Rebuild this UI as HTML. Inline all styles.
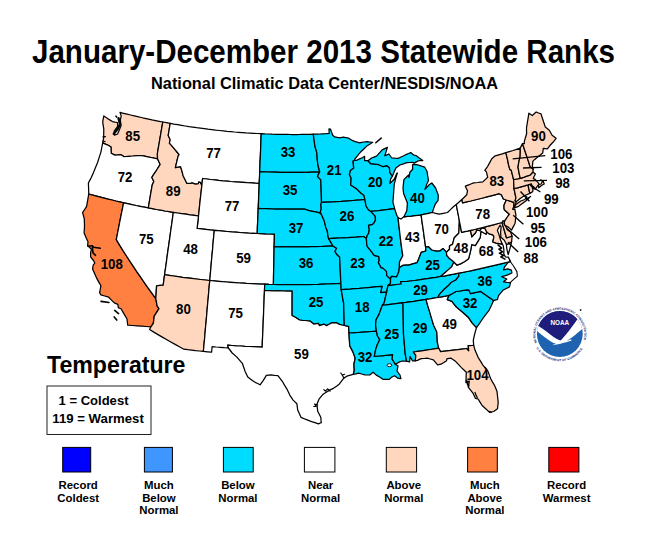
<!DOCTYPE html>
<html><head><meta charset="utf-8"><title>January-December 2013 Statewide Ranks</title>
<style>
html,body{margin:0;padding:0;background:#fff}
body{width:650px;height:534px;overflow:hidden;position:relative;font-family:"Liberation Sans",sans-serif;color:#000}
svg{position:absolute;left:0;top:0}
text{font-family:"Liberation Sans",sans-serif}
.st path{stroke:#000;stroke-width:1.25;stroke-linejoin:round}
.lb text{font-weight:bold;font-size:14.5px;text-anchor:middle;fill:#000}
.ld line{stroke:#000;stroke-width:1.35}
.lg{font-weight:bold;font-size:11.4px;text-anchor:middle}
.t1{font-weight:bold;font-size:32.4px}
.t2{font-weight:bold;font-size:16.3px}
.t3{font-weight:bold;font-size:23.2px}
.t4{font-weight:bold;font-size:13.1px}
</style></head><body>
<svg width="650" height="534" viewBox="0 0 650 534">
<text id="title" class="t1" x="32" y="62.7" textLength="583" lengthAdjust="spacingAndGlyphs">January-December 2013 Statewide Ranks</text>
<text id="sub" class="t2" x="151" y="88.6" textLength="347" lengthAdjust="spacingAndGlyphs">National Climatic Data Center/NESDIS/NOAA</text>
<g class="st"><path d="M120.0,112.4L123.5,113.3L127.1,114.2L130.6,115.0L134.2,115.9L137.7,116.7L141.3,117.5L144.9,118.3L148.5,119.1L152.0,119.9L155.6,120.6L159.2,121.3L162.8,122.0L161.9,127.2L161.0,132.5L160.1,137.7L159.2,143.0L158.3,148.2L157.4,153.5L157.5,158.8L154.2,158.2L151.0,157.5L147.8,156.9L144.5,156.2L141.3,155.5L139.2,155.6L137.0,155.6L132.9,156.0L128.7,156.3L126.2,156.5L123.7,156.6L120.8,154.6L117.9,154.9L114.9,155.1L111.2,153.3L111.0,147.0L108.1,145.3L105.4,144.1L102.7,142.9L103.6,138.0L103.7,134.2L103.8,129.1L103.2,125.4L102.7,121.8L103.8,115.9L105.8,117.3L107.9,118.7L110.1,120.1L112.4,121.6L114.9,122.1L117.5,122.5L117.7,126.4L114.2,131.2L114.5,135.2L117.6,134.0L119.3,130.0L121.1,125.4L120.3,120.1L121.2,115.9L120.0,112.4Z" fill="#FFD6BE"/><path d="M102.7,142.9L105.4,144.1L108.1,145.3L111.0,147.0L111.2,153.3L114.9,155.1L117.9,154.9L120.8,154.6L123.7,156.6L126.2,156.5L128.7,156.3L132.9,156.0L137.0,155.6L139.2,155.6L141.3,155.5L144.5,156.2L147.8,156.9L151.0,157.5L154.2,158.2L157.5,158.8L160.2,164.4L158.0,167.8L156.0,171.2L153.9,174.0L151.9,177.4L153.8,181.6L152.2,185.1L151.2,190.8L150.2,196.5L149.3,202.2L148.3,207.9L144.2,207.1L140.1,206.3L135.9,205.5L131.8,204.6L127.7,203.7L123.6,202.8L119.7,201.9L115.8,201.0L112.0,200.0L108.1,199.1L104.2,198.1L100.4,197.1L96.5,196.1L92.7,195.1L88.8,194.0L88.6,188.5L88.4,183.0L89.9,180.1L91.4,177.2L93.5,172.4L95.5,167.6L97.5,162.8L99.2,157.4L100.9,152.1L101.8,147.5L102.7,142.9Z" fill="#FFFFFF"/><path d="M88.8,194.0L92.7,195.1L96.5,196.1L100.4,197.1L104.2,198.1L108.1,199.1L112.0,200.0L115.8,201.0L119.7,201.9L123.6,202.8L122.4,208.9L121.1,215.1L119.9,221.2L118.7,227.4L117.5,233.5L116.3,239.7L119.6,245.1L123.0,250.6L126.5,256.0L130.0,261.4L133.5,266.7L137.1,272.1L140.8,277.4L144.5,282.8L148.2,288.1L152.0,293.4L155.8,298.7L156.5,302.3L157.1,305.9L159.0,308.6L156.6,312.4L154.2,316.2L153.8,319.8L153.3,323.3L150.9,326.8L146.2,326.5L141.6,326.2L137.0,325.9L132.3,325.5L127.7,325.1L127.0,319.0L124.0,313.9L121.0,308.8L118.3,307.6L117.9,304.3L114.3,302.9L111.5,300.1L108.7,297.2L104.7,296.0L100.8,294.8L99.6,292.6L100.3,289.2L100.9,285.8L98.8,282.1L96.8,278.4L94.7,273.7L92.6,268.9L93.2,265.2L94.8,263.0L93.5,260.5L90.6,256.8L90.6,252.9L91.4,249.2L87.6,245.6L88.0,241.8L86.0,237.4L84.1,233.0L84.5,226.6L84.4,222.7L84.3,218.8L82.6,212.6L84.6,209.5L86.6,206.4L87.4,201.8L88.2,197.1L88.8,194.0Z" fill="#FF8040"/><path d="M123.6,202.8L127.7,203.7L131.8,204.6L135.9,205.5L140.1,206.3L144.2,207.1L148.3,207.9L152.5,208.7L156.6,209.5L160.8,210.2L165.0,211.0L169.2,211.7L173.3,212.3L172.5,218.5L171.6,224.8L170.7,231.0L169.9,237.2L169.0,243.4L168.1,249.7L167.2,255.9L166.4,262.1L165.5,268.4L164.6,274.6L163.9,279.9L163.2,285.2L159.9,285.3L156.6,285.8L156.4,289.1L156.2,292.4L155.8,298.7L152.0,293.4L148.2,288.1L144.5,282.8L140.8,277.4L137.1,272.1L133.5,266.7L130.0,261.4L126.5,256.0L123.0,250.6L119.6,245.1L116.3,239.7L117.5,233.5L118.7,227.4L119.9,221.2L121.1,215.1L122.4,208.9L123.6,202.8Z" fill="#FFFFFF"/><path d="M162.8,122.0L166.5,122.7L170.2,123.4L169.2,129.5L168.2,135.6L170.2,139.7L169.4,143.1L172.1,146.2L174.8,149.3L177.0,152.0L179.1,154.7L178.1,156.1L177.2,159.8L176.4,163.4L175.4,167.7L177.9,167.2L180.5,166.7L181.6,169.9L183.2,175.9L184.5,178.6L186.8,183.3L190.9,183.3L191.8,182.7L195.0,183.8L198.3,183.6L198.8,181.7L200.3,182.4L201.9,185.1L201.2,191.3L200.5,197.4L199.8,203.6L199.2,209.7L198.5,215.9L194.3,215.3L190.1,214.8L185.9,214.2L181.7,213.6L177.5,213.0L173.3,212.3L169.2,211.7L165.0,211.0L160.8,210.2L156.6,209.5L152.5,208.7L148.3,207.9L149.3,202.2L150.2,196.5L151.2,190.8L152.2,185.1L153.8,181.6L151.9,177.4L153.9,174.0L156.0,171.2L158.0,167.8L160.2,164.4L157.5,158.8L157.4,153.5L158.3,148.2L159.2,143.0L160.1,137.7L161.0,132.5L161.9,127.2L162.8,122.0Z" fill="#FFD6BE"/><path d="M170.2,123.4L173.9,124.1L177.7,124.7L181.5,125.4L185.2,126.0L189.0,126.6L192.8,127.1L196.6,127.7L200.4,128.2L204.2,128.7L208.0,129.2L211.8,129.6L215.6,130.1L219.4,130.5L223.2,130.9L227.0,131.3L230.8,131.6L234.6,132.0L238.4,132.3L242.2,132.6L246.0,132.9L249.8,133.1L253.6,133.3L257.4,133.5L261.2,133.7L261.0,139.1L260.8,144.5L260.6,149.9L260.4,155.3L260.1,160.8L259.9,166.2L259.7,171.6L259.5,177.5L259.2,183.4L255.2,183.2L251.1,182.9L247.1,182.7L243.0,182.4L239.0,182.1L234.9,181.8L230.9,181.5L226.8,181.1L222.8,180.8L218.7,180.4L214.7,179.9L210.6,179.5L206.6,179.0L202.6,178.5L202.2,181.8L201.9,185.1L200.3,182.4L198.8,181.7L198.3,183.6L195.0,183.8L191.8,182.7L190.9,183.3L186.8,183.3L184.5,178.6L183.2,175.9L181.6,169.9L180.5,166.7L177.9,167.2L175.4,167.7L176.4,163.4L177.2,159.8L178.1,156.1L179.1,154.7L177.0,152.0L174.8,149.3L172.1,146.2L169.4,143.1L170.2,139.7L168.2,135.6L169.2,129.5L170.2,123.4Z" fill="#FFFFFF"/><path d="M201.9,185.1L202.2,181.8L202.6,178.5L206.6,179.0L210.6,179.5L214.7,179.9L218.7,180.4L222.8,180.8L226.8,181.1L230.9,181.5L234.9,181.8L239.0,182.1L243.0,182.4L247.1,182.7L251.1,182.9L255.2,183.2L259.2,183.4L259.0,189.6L258.7,195.9L258.5,202.1L258.2,208.4L258.0,214.7L257.7,220.9L257.4,227.2L257.2,233.5L252.9,233.3L248.6,233.1L244.3,232.8L240.0,232.5L235.7,232.2L231.4,231.9L227.1,231.5L222.8,231.1L218.5,230.7L214.3,230.3L210.0,229.9L205.7,229.4L201.4,228.9L197.1,228.4L197.8,222.1L198.5,215.9L199.2,209.7L199.8,203.6L200.5,197.4L201.2,191.3L201.9,185.1Z" fill="#FFFFFF"/><path d="M173.3,212.3L177.5,213.0L181.7,213.6L185.9,214.2L190.1,214.8L194.3,215.3L198.5,215.9L197.8,222.1L197.1,228.4L201.4,228.9L205.7,229.4L210.0,229.9L214.3,230.3L213.7,236.6L213.1,242.8L212.6,249.1L212.0,255.4L211.4,261.7L210.9,267.9L210.3,274.2L209.8,280.5L205.2,280.0L200.7,279.5L196.2,279.0L191.7,278.4L187.2,277.9L182.6,277.3L178.1,276.6L173.6,276.0L169.1,275.3L164.6,274.6L165.5,268.4L166.4,262.1L167.2,255.9L168.1,249.7L169.0,243.4L169.9,237.2L170.7,231.0L171.6,224.8L172.5,218.5L173.3,212.3Z" fill="#FFFFFF"/><path d="M214.3,230.3L218.5,230.7L222.8,231.1L227.1,231.5L231.4,231.9L235.7,232.2L240.0,232.5L244.3,232.8L248.6,233.1L252.9,233.3L257.2,233.5L261.5,233.7L265.8,233.9L270.1,234.0L274.4,234.1L274.3,240.4L274.1,246.7L274.0,253.0L273.9,259.3L273.8,265.6L273.6,271.9L273.5,278.2L273.4,284.5L269.0,284.4L264.7,284.2L260.4,284.1L256.2,283.9L252.0,283.7L247.8,283.5L243.5,283.2L239.3,283.0L235.1,282.7L230.9,282.4L226.6,282.0L222.4,281.7L218.2,281.3L214.0,280.9L209.8,280.5L210.3,274.2L210.9,267.9L211.4,261.7L212.0,255.4L212.6,249.1L213.1,242.8L213.7,236.6L214.3,230.3Z" fill="#FFFFFF"/><path d="M164.6,274.6L169.1,275.3L173.6,276.0L178.1,276.6L182.6,277.3L187.2,277.9L191.7,278.4L196.2,279.0L200.7,279.5L205.2,280.0L209.8,280.5L209.2,286.4L208.7,292.3L208.2,298.3L207.6,304.2L207.1,310.1L206.6,316.0L206.1,321.9L205.5,327.8L205.0,333.7L204.5,339.6L203.9,345.5L203.4,351.4L199.5,351.0L195.5,350.6L191.6,350.1L187.7,349.7L183.8,349.2L179.4,346.8L175.1,344.4L170.8,342.0L166.5,339.5L162.3,337.1L158.0,334.6L153.8,332.1L149.6,329.5L150.9,326.8L153.3,323.3L153.8,319.8L154.2,316.2L156.6,312.4L159.0,308.6L157.1,305.9L156.5,302.3L155.8,298.7L156.2,292.4L156.4,289.1L156.6,285.8L159.9,285.3L163.2,285.2L163.9,279.9L164.6,274.6Z" fill="#FFD6BE"/><path d="M209.8,280.5L214.0,280.9L218.2,281.3L222.4,281.7L226.6,282.0L230.9,282.4L235.1,282.7L239.3,283.0L243.5,283.2L247.8,283.5L252.0,283.7L256.2,283.9L260.4,284.1L264.7,284.2L264.5,290.5L264.2,296.8L264.0,303.1L263.7,309.4L263.5,315.7L263.2,322.0L263.0,328.3L262.7,334.5L262.4,340.8L262.2,347.1L257.9,346.9L253.5,346.7L249.2,346.5L244.9,346.3L240.6,346.0L236.3,345.8L232.0,345.5L227.7,345.2L228.4,348.0L224.3,347.7L220.2,347.3L216.1,347.0L212.1,346.6L211.6,352.2L207.5,351.8L203.4,351.4L203.9,345.5L204.5,339.6L205.0,333.7L205.5,327.8L206.1,321.9L206.6,316.0L207.1,310.1L207.6,304.2L208.2,298.3L208.7,292.3L209.2,286.4L209.8,280.5Z" fill="#FFFFFF"/><path d="M261.2,133.7L265.0,133.9L268.7,134.0L272.4,134.2L276.1,134.3L279.8,134.3L283.6,134.4L287.3,134.4L291.0,134.5L294.7,134.5L298.4,134.5L302.2,134.4L305.9,134.4L309.6,134.3L313.3,134.2L314.1,140.3L315.0,146.5L316.8,152.6L317.2,158.8L317.9,165.0L318.8,168.5L319.7,171.9L315.7,172.1L311.7,172.2L307.7,172.3L303.7,172.3L299.7,172.4L295.7,172.4L291.7,172.4L287.7,172.4L283.7,172.4L279.7,172.3L275.7,172.2L271.7,172.1L267.7,172.0L263.7,171.8L259.7,171.6L259.9,166.2L260.1,160.8L260.4,155.3L260.6,149.9L260.8,144.5L261.0,139.1L261.2,133.7Z" fill="#00DCFF"/><path d="M259.7,171.6L263.7,171.8L267.7,172.0L271.7,172.1L275.7,172.2L279.7,172.3L283.7,172.4L287.7,172.4L291.7,172.4L295.7,172.4L299.7,172.4L303.7,172.3L307.7,172.3L311.7,172.2L315.7,172.1L319.7,171.9L317.5,176.3L320.8,179.9L321.0,185.5L321.2,191.1L321.4,196.8L321.5,202.4L320.8,204.9L321.3,208.7L320.3,211.9L321.7,215.0L319.4,212.8L315.6,211.8L312.6,211.3L309.7,210.9L307.1,210.0L304.6,209.1L300.7,209.2L296.9,209.2L293.0,209.2L289.1,209.2L285.3,209.2L281.4,209.1L277.5,209.0L273.7,209.0L269.8,208.8L265.9,208.7L262.1,208.6L258.2,208.4L258.5,202.1L258.7,195.9L259.0,189.6L259.2,183.4L259.5,177.5L259.7,171.6Z" fill="#00DCFF"/><path d="M258.2,208.4L262.1,208.6L265.9,208.7L269.8,208.8L273.7,209.0L277.5,209.0L281.4,209.1L285.3,209.2L289.1,209.2L293.0,209.2L296.9,209.2L300.7,209.2L304.6,209.1L307.1,210.0L309.7,210.9L312.6,211.3L315.6,211.8L319.4,212.8L321.7,215.0L324.3,221.1L325.8,227.4L327.2,230.5L328.0,236.1L328.6,238.6L331.2,242.9L332.9,245.9L328.7,246.1L324.5,246.3L320.3,246.5L316.1,246.6L311.9,246.7L307.7,246.8L303.5,246.9L299.3,246.9L295.1,246.9L290.9,246.9L286.7,246.9L282.5,246.9L278.3,246.8L274.1,246.7L274.3,240.4L274.4,234.1L270.1,234.0L265.8,233.9L261.5,233.7L257.2,233.5L257.4,227.2L257.7,220.9L258.0,214.7L258.2,208.4Z" fill="#00DCFF"/><path d="M274.1,246.7L278.3,246.8L282.5,246.9L286.7,246.9L290.9,246.9L295.1,246.9L299.3,246.9L303.5,246.9L307.7,246.8L311.9,246.7L316.1,246.6L320.3,246.5L324.5,246.3L328.7,246.1L332.9,245.9L336.6,248.3L335.0,251.5L336.9,254.6L339.6,256.9L339.9,262.2L340.1,267.5L340.4,272.8L340.6,278.1L340.9,283.4L336.4,283.6L331.9,283.8L327.4,284.0L322.9,284.2L318.4,284.4L313.9,284.5L309.4,284.6L304.9,284.7L300.4,284.7L295.9,284.7L291.4,284.7L286.9,284.7L282.4,284.7L277.9,284.6L273.4,284.5L273.5,278.2L273.6,271.9L273.8,265.6L273.9,259.3L274.0,253.0L274.1,246.7Z" fill="#00DCFF"/><path d="M264.7,284.2L269.0,284.4L273.4,284.5L277.9,284.6L282.4,284.7L286.9,284.7L291.4,284.7L295.9,284.7L300.4,284.7L304.9,284.7L309.4,284.6L313.9,284.5L318.4,284.4L322.9,284.2L327.4,284.0L331.9,283.8L336.4,283.6L340.9,283.4L341.2,289.6L342.0,294.2L342.8,298.8L343.7,303.4L343.8,308.9L344.0,314.4L344.1,320.0L344.3,325.5L341.8,325.0L339.4,324.4L336.4,322.7L331.7,322.9L329.1,324.3L326.6,325.6L324.1,324.2L319.4,325.6L318.4,323.4L313.7,324.1L309.9,321.1L305.1,320.5L302.3,320.3L299.5,320.0L295.7,317.5L291.9,315.5L291.9,309.4L291.9,303.3L291.9,297.1L292.0,291.0L287.4,291.0L282.8,291.0L278.2,290.9L273.6,290.8L269.1,290.7L264.5,290.5L264.7,284.2Z" fill="#00DCFF"/><path d="M264.5,290.5L269.1,290.7L273.6,290.8L278.2,290.9L282.8,291.0L287.4,291.0L292.0,291.0L291.9,297.1L291.9,303.3L291.9,309.4L291.9,315.5L295.7,317.5L299.5,320.0L302.3,320.3L305.1,320.5L309.9,321.1L313.7,324.1L318.4,323.4L319.4,325.6L324.1,324.2L326.6,325.6L329.1,324.3L331.7,322.9L336.4,322.7L339.4,324.4L341.8,325.0L344.3,325.5L348.6,326.4L348.8,329.7L349.0,333.0L349.2,337.3L349.5,341.5L349.7,345.8L352.9,351.9L355.2,358.0L353.9,364.3L354.3,370.6L353.2,374.4L350.5,375.1L347.7,375.8L343.8,378.1L339.2,384.2L336.5,386.2L333.8,388.1L329.2,390.4L326.2,392.3L323.1,394.2L319.2,398.8L316.9,404.2L317.3,407.7L317.7,411.2L320.8,417.3L321.2,422.7L321.5,422.5L318.4,423.9L315.0,422.7L311.6,421.6L308.4,420.4L305.3,419.2L301.1,417.4L299.4,413.7L297.7,410.0L296.9,403.8L293.1,400.1L289.8,395.1L286.8,388.8L284.5,385.1L282.3,381.3L277.9,375.6L274.4,375.3L270.9,374.9L266.4,375.4L263.3,380.3L260.1,384.8L257.1,383.3L254.2,381.8L251.0,379.5L247.8,377.1L245.1,371.4L243.8,367.5L242.5,363.7L239.7,360.4L236.9,357.1L232.2,353.0L228.4,348.0L227.7,345.2L232.0,345.5L236.3,345.8L240.6,346.0L244.9,346.3L249.2,346.5L253.5,346.7L257.9,346.9L262.2,347.1L262.4,340.8L262.7,334.5L263.0,328.3L263.2,322.0L263.5,315.7L263.7,309.4L264.0,303.1L264.2,296.8L264.5,290.5Z" fill="#FFFFFF"/><path d="M313.3,134.2L316.5,134.1L319.7,134.0L322.9,133.8L326.0,133.7L329.2,133.5L329.0,128.9L330.5,129.1L332.7,135.2L334.7,136.9L337.3,137.4L339.8,137.8L343.2,137.2L345.9,137.7L348.7,138.2L351.5,140.1L354.7,141.4L357.1,142.1L359.5,142.8L361.6,142.4L363.7,142.0L367.2,141.7L369.9,142.0L372.7,142.3L369.7,144.2L366.8,146.1L363.6,149.2L360.3,152.3L357.6,155.7L354.9,159.0L354.6,160.3L353.1,161.1L353.4,164.6L353.7,168.1L350.5,170.6L349.4,174.5L351.1,178.1L350.9,181.6L350.7,185.0L354.2,187.3L356.7,188.9L360.8,193.0L363.9,195.2L364.9,199.5L360.9,199.9L357.0,200.2L353.1,200.5L349.1,200.8L345.2,201.1L341.3,201.4L337.3,201.6L333.4,201.9L329.4,202.1L325.5,202.2L321.5,202.4L321.4,196.8L321.2,191.1L321.0,185.5L320.8,179.9L317.5,176.3L319.7,171.9L318.8,168.5L317.9,165.0L317.2,158.8L316.8,152.6L315.0,146.5L314.1,140.3L313.3,134.2Z" fill="#00DCFF"/><path d="M321.5,202.4L325.5,202.2L329.4,202.1L333.4,201.9L337.3,201.6L341.3,201.4L345.2,201.1L349.1,200.8L353.1,200.5L357.0,200.2L360.9,199.9L364.9,199.5L366.0,205.7L368.0,209.3L370.8,211.4L375.2,216.1L375.5,219.9L374.3,222.5L372.3,224.6L368.5,225.4L369.3,229.4L368.7,233.2L367.2,235.5L366.4,238.6L363.5,236.5L359.7,236.8L355.8,237.1L351.9,237.3L348.0,237.6L344.2,237.8L340.3,238.0L336.4,238.2L332.5,238.4L328.6,238.6L328.0,236.1L327.2,230.5L325.8,227.4L324.3,221.1L321.7,215.0L320.3,211.9L321.3,208.7L320.8,204.9L321.5,202.4Z" fill="#00DCFF"/><path d="M328.6,238.6L332.5,238.4L336.4,238.2L340.3,238.0L344.2,237.8L348.0,237.6L351.9,237.3L355.8,237.1L359.7,236.8L363.5,236.5L366.4,238.6L366.8,244.8L367.7,247.2L370.7,250.7L374.2,255.4L378.8,256.6L379.2,260.0L378.4,262.6L381.2,267.6L383.3,268.4L386.5,271.4L386.7,275.6L390.5,279.0L390.5,283.4L387.9,285.6L387.3,288.8L386.7,292.1L383.7,292.4L380.6,292.7L382.0,286.3L377.5,286.7L372.9,287.2L368.4,287.6L363.9,288.0L359.4,288.4L354.8,288.7L350.3,289.1L345.7,289.4L341.2,289.6L340.9,283.4L340.6,278.1L340.4,272.8L340.1,267.5L339.9,262.2L339.6,256.9L336.9,254.6L335.0,251.5L336.6,248.3L332.9,245.9L331.2,242.9L328.6,238.6Z" fill="#00DCFF"/><path d="M341.2,289.6L345.7,289.4L350.3,289.1L354.8,288.7L359.4,288.4L363.9,288.0L368.4,287.6L372.9,287.2L377.5,286.7L382.0,286.3L380.6,292.7L383.7,292.4L386.7,292.1L385.4,297.3L384.1,303.1L382.4,305.2L380.9,309.2L379.0,314.4L376.1,319.7L375.6,324.8L376.4,331.1L371.8,331.5L367.3,331.8L362.7,332.2L358.1,332.5L353.5,332.8L349.0,333.0L348.8,329.7L348.6,326.4L344.3,325.5L344.1,320.0L344.0,314.4L343.8,308.9L343.7,303.4L342.8,298.8L342.0,294.2L341.2,289.6Z" fill="#00DCFF"/><path d="M349.0,333.0L353.5,332.8L358.1,332.5L362.7,332.2L367.3,331.8L371.8,331.5L376.4,331.1L377.5,336.0L379.8,339.6L377.3,344.8L375.7,349.4L375.0,352.9L374.3,356.4L378.9,356.0L383.5,355.6L388.0,355.1L392.6,354.6L392.1,359.0L395.4,364.3L398.0,365.9L397.0,371.0L400.0,375.1L400.9,378.7L398.3,378.4L394.5,375.7L391.6,377.3L389.3,379.4L386.3,379.4L383.2,379.4L380.0,377.2L376.3,375.1L373.1,372.2L369.8,375.0L364.8,374.8L361.7,374.0L358.6,373.1L355.9,373.8L353.2,374.4L354.3,370.6L353.9,364.3L355.2,358.0L352.9,351.9L349.7,345.8L349.5,341.5L349.2,337.3L349.0,333.0Z" fill="#00DCFF"/><path d="M354.6,160.3L357.0,160.1L359.6,158.9L362.3,157.7L364.6,156.3L364.6,160.6L368.0,160.7L370.8,163.7L374.9,164.2L378.9,164.7L383.2,166.7L386.7,165.6L389.4,167.8L389.9,172.7L392.4,176.2L390.7,178.9L389.9,183.4L392.2,181.2L394.4,179.0L396.6,173.7L397.3,173.0L395.6,178.9L394.2,184.7L393.9,188.9L393.6,193.0L393.3,197.5L392.9,202.0L393.8,205.3L394.6,208.7L390.6,209.2L386.6,209.7L382.7,210.1L378.7,210.6L374.8,211.0L370.8,211.4L368.0,209.3L366.0,205.7L364.9,199.5L363.9,195.2L360.8,193.0L356.7,188.9L354.2,187.3L350.7,185.0L350.9,181.6L351.1,178.1L349.4,174.5L350.5,170.6L353.7,168.1L353.4,164.6L353.1,161.1L354.6,160.3Z" fill="#00DCFF"/><path d="M370.8,211.4L374.8,211.0L378.7,210.6L382.7,210.1L386.6,209.7L390.6,209.2L394.6,208.7L396.6,214.8L398.0,217.6L398.7,223.6L399.4,229.6L400.1,235.7L400.8,241.7L401.6,247.7L402.2,251.8L402.8,255.8L399.5,262.0L399.4,267.7L398.7,272.0L396.6,276.9L394.1,276.6L391.5,276.3L390.5,279.0L386.7,275.6L386.5,271.4L383.3,268.4L381.2,267.6L378.4,262.6L379.2,260.0L378.8,256.6L374.2,255.4L370.7,250.7L367.7,247.2L366.8,244.8L366.4,238.6L367.2,235.5L368.7,233.2L369.3,229.4L368.5,225.4L372.3,224.6L374.3,222.5L375.5,219.9L375.2,216.1L370.8,211.4Z" fill="#00DCFF"/><path d="M398.0,217.6L400.9,219.0L403.9,216.8L407.4,216.4L410.8,216.1L414.2,215.7L417.6,215.3L421.1,214.9L421.8,220.2L422.6,225.6L423.4,231.0L424.1,236.4L424.9,241.8L425.6,247.2L425.9,251.0L423.6,251.7L421.2,252.4L418.9,258.5L417.2,262.6L412.8,263.9L408.5,265.2L405.7,265.2L403.0,265.3L399.4,267.7L399.5,262.0L402.8,255.8L402.2,251.8L401.6,247.7L400.8,241.7L400.1,235.7L399.4,229.6L398.7,223.6L398.0,217.6Z" fill="#FFFFFF"/><path d="M403.9,216.8L406.8,210.8L407.1,206.9L407.4,203.1L405.5,198.3L403.6,193.5L403.0,188.5L403.4,184.0L403.9,179.6L406.3,177.3L408.6,175.0L409.0,177.5L409.9,172.3L412.7,169.3L412.5,164.9L414.0,164.3L416.3,164.7L418.6,165.1L421.6,166.2L424.7,167.2L427.0,171.2L427.7,175.9L428.5,180.5L426.6,184.6L424.9,189.4L427.0,187.1L429.2,184.8L431.8,183.0L435.6,188.0L436.9,191.6L438.3,195.2L438.1,200.3L435.3,204.0L433.8,208.1L432.3,212.5L428.6,213.3L424.8,214.1L421.1,214.9L417.6,215.3L414.2,215.7L410.8,216.1L407.4,216.4L403.9,216.8Z" fill="#00DCFF"/><path d="M392.4,176.2L394.1,172.1L395.9,168.1L397.9,166.6L399.9,165.0L403.4,163.9L406.9,162.7L409.7,162.5L412.5,162.4L414.1,163.1L416.4,161.9L418.7,160.7L422.8,160.6L419.3,158.1L415.9,155.5L413.9,155.2L410.7,152.6L408.6,153.5L406.5,154.3L403.8,155.7L401.0,157.0L398.3,158.3L395.0,158.2L391.8,158.0L388.9,154.0L386.9,154.9L384.8,155.8L386.1,151.6L387.4,147.4L384.7,148.6L382.1,149.9L379.3,153.1L376.5,156.2L374.0,157.1L371.5,158.0L368.0,160.7L370.8,163.7L374.9,164.2L378.9,164.7L383.2,166.7L386.7,165.6L389.4,167.8L389.9,172.7L392.4,176.2Z" fill="#00DCFF"/><path d="M421.1,214.9L424.8,214.1L428.6,213.3L432.3,212.5L435.7,213.3L439.1,214.2L443.3,213.3L447.5,212.5L450.5,209.6L453.4,206.8L456.3,204.5L457.3,210.0L458.4,215.5L459.4,221.0L459.2,224.5L459.1,228.4L458.8,233.2L456.5,235.5L454.3,237.8L453.7,239.8L452.6,244.1L449.5,246.0L449.5,249.2L446.4,252.2L443.1,248.6L439.9,251.1L435.9,251.2L431.6,250.0L428.4,246.7L425.6,247.2L424.9,241.8L424.1,236.4L423.4,231.0L422.6,225.6L421.8,220.2L421.1,214.9Z" fill="#FFFFFF"/><path d="M390.5,279.0L391.5,276.3L394.1,276.6L396.6,276.9L398.7,272.0L399.4,267.7L403.0,265.3L405.7,265.2L408.5,265.2L412.8,263.9L417.2,262.6L418.9,258.5L421.2,252.4L423.6,251.7L425.9,251.0L425.6,247.2L428.4,246.7L431.6,250.0L435.9,251.2L439.9,251.1L443.1,248.6L446.4,252.2L446.8,255.5L449.3,258.3L453.9,262.0L451.7,266.8L448.5,269.6L445.2,272.5L442.9,274.5L440.5,276.5L436.2,277.3L431.9,277.9L427.6,278.6L423.4,279.2L419.1,279.9L414.8,280.5L410.4,281.0L407.2,281.3L403.9,281.5L400.7,281.7L401.1,284.0L396.7,284.5L392.3,285.1L387.9,285.6L390.5,283.4L390.5,279.0Z" fill="#00DCFF"/><path d="M387.9,285.6L392.3,285.1L396.7,284.5L401.1,284.0L400.7,281.7L403.9,281.5L407.2,281.3L410.4,281.0L414.8,280.5L419.1,279.9L423.4,279.2L427.6,278.6L431.9,277.9L436.2,277.3L440.5,276.5L445.0,275.8L449.5,274.9L454.0,274.1L458.5,273.2L458.9,276.2L455.8,280.0L451.5,282.2L448.7,285.3L446.5,287.3L444.2,289.3L442.0,291.6L439.8,293.9L437.8,297.5L433.8,298.1L429.9,298.8L426.0,299.4L421.9,300.1L417.9,300.7L413.9,301.3L409.9,301.8L405.9,302.4L401.9,302.9L398.0,303.4L394.1,303.9L390.2,304.3L386.3,304.8L382.4,305.2L384.1,303.1L385.4,297.3L386.7,292.1L387.3,288.8L387.9,285.6Z" fill="#00DCFF"/><path d="M382.4,305.2L386.3,304.8L390.2,304.3L394.1,303.9L398.0,303.4L401.9,302.9L403.0,304.0L403.1,310.1L403.2,316.2L403.3,322.2L403.4,328.3L403.5,334.3L404.1,340.6L404.6,346.8L405.1,353.1L405.8,357.1L406.5,361.1L402.5,361.0L399.6,361.9L395.4,364.3L392.1,359.0L392.6,354.6L388.0,355.1L383.5,355.6L378.9,356.0L374.3,356.4L375.0,352.9L375.7,349.4L377.3,344.8L379.8,339.6L377.5,336.0L376.4,331.1L375.6,324.8L376.1,319.7L379.0,314.4L380.9,309.2L382.4,305.2Z" fill="#00DCFF"/><path d="M401.9,302.9L405.9,302.4L409.9,301.8L413.9,301.3L417.9,300.7L421.9,300.1L426.0,299.4L427.7,305.5L429.6,311.6L430.9,316.2L432.3,320.9L433.7,325.5L435.3,328.7L436.8,332.0L437.1,337.0L437.3,342.0L438.7,348.2L434.5,348.8L430.3,349.5L426.1,350.2L421.8,350.8L417.6,351.4L413.4,352.0L415.8,355.4L415.3,360.8L412.5,360.9L410.0,356.5L409.6,361.9L406.5,361.1L405.8,357.1L405.1,353.1L404.6,346.8L404.1,340.6L403.5,334.3L403.4,328.3L403.3,322.2L403.2,316.2L403.1,310.1L403.0,304.0L401.9,302.9Z" fill="#00DCFF"/><path d="M426.0,299.4L429.9,298.8L433.8,298.1L437.8,297.5L441.5,296.8L445.3,296.1L449.0,295.4L447.3,299.6L451.9,301.3L456.2,306.8L459.4,309.6L462.7,312.3L468.2,317.2L472.1,322.8L476.5,327.6L475.4,331.4L474.4,335.1L473.3,340.4L473.7,345.4L471.0,345.5L468.2,345.5L468.7,350.8L466.6,348.5L462.2,349.1L457.9,349.7L453.6,350.2L449.3,350.7L444.9,351.2L440.6,351.6L438.7,348.2L437.3,342.0L437.1,337.0L436.8,332.0L435.3,328.7L433.7,325.5L432.3,320.9L430.9,316.2L429.6,311.6L427.7,305.5L426.0,299.4Z" fill="#FFFFFF"/><path d="M438.7,348.2L440.6,351.6L444.9,351.2L449.3,350.7L453.6,350.2L457.9,349.7L462.2,349.1L466.6,348.5L468.7,350.8L468.2,345.5L471.0,345.5L473.7,345.4L475.1,350.3L476.6,353.8L478.1,357.3L480.5,361.2L482.9,365.1L485.4,368.1L487.9,371.1L489.3,374.9L490.7,378.7L492.6,382.1L494.6,385.5L497.0,391.3L497.6,396.8L498.2,402.4L497.5,408.8L493.7,411.5L489.6,412.4L485.7,408.8L481.9,405.2L480.0,402.1L478.1,399.0L475.4,398.3L472.9,393.1L470.6,390.1L468.2,387.1L468.8,384.5L469.3,381.2L465.9,382.5L466.1,377.4L466.3,372.3L461.4,367.6L458.6,364.6L455.8,361.6L450.7,358.1L446.8,358.8L446.6,360.7L443.8,362.5L441.0,364.2L437.6,364.8L433.4,359.8L430.2,359.0L427.1,358.2L424.2,358.5L421.2,358.7L417.4,360.3L415.3,360.8L415.8,355.4L413.4,352.0L417.6,351.4L421.8,350.8L426.1,350.2L430.3,349.5L434.5,348.8L438.7,348.2Z" fill="#FFD6BE"/><path d="M449.0,295.4L452.5,293.5L455.9,291.5L459.8,291.0L463.6,290.4L467.5,289.8L469.0,290.2L470.6,293.7L473.9,292.9L477.3,292.2L480.7,291.4L485.0,294.5L489.3,297.6L493.6,300.6L491.5,305.3L489.2,310.0L486.5,313.6L483.8,317.1L481.5,320.5L479.2,323.9L476.5,327.6L472.1,322.8L468.2,317.2L462.7,312.3L459.4,309.6L456.2,306.8L451.9,301.3L447.3,299.6L449.0,295.4Z" fill="#00DCFF"/><path d="M437.8,297.5L439.8,293.9L442.0,291.6L444.2,289.3L446.5,287.3L448.7,285.3L451.5,282.2L455.8,280.0L458.9,276.2L458.5,273.2L462.9,272.4L467.2,271.5L471.6,270.6L475.9,269.6L480.3,268.7L484.6,267.7L488.9,266.7L493.3,265.7L497.6,264.7L501.9,263.6L506.2,262.5L510.5,261.4L507.7,262.8L504.5,267.0L503.5,269.8L507.7,268.9L511.4,270.2L511.9,273.0L507.7,274.9L504.7,275.8L501.7,276.7L506.8,279.0L503.5,281.8L507.0,282.3L510.5,282.7L509.5,286.9L506.3,288.5L503.1,290.1L500.8,292.9L498.5,295.6L497.5,299.3L493.6,300.6L489.3,297.6L485.0,294.5L480.7,291.4L477.3,292.2L473.9,292.9L470.6,293.7L469.0,290.2L467.5,289.8L463.6,290.4L459.8,291.0L455.9,291.5L452.5,293.5L449.0,295.4L445.3,296.1L441.5,296.8L437.8,297.5Z" fill="#00DCFF"/><path d="M440.5,276.5L442.9,274.5L445.2,272.5L448.5,269.6L451.7,266.8L453.9,262.0L457.1,265.2L461.0,263.6L464.8,261.5L468.6,258.7L470.2,252.6L471.0,248.6L471.8,244.5L475.2,245.7L478.2,240.8L480.3,237.4L480.9,231.3L483.5,232.8L486.2,234.2L486.6,231.7L489.1,233.9L492.8,234.9L493.9,236.6L493.7,237.9L492.8,242.0L496.2,243.1L499.2,243.6L502.3,244.1L503.3,245.8L503.9,250.2L503.8,254.1L505.4,256.9L508.3,257.1L510.5,261.4L506.2,262.5L501.9,263.6L497.6,264.7L493.3,265.7L488.9,266.7L484.6,267.7L480.3,268.7L475.9,269.6L471.6,270.6L467.2,271.5L462.9,272.4L458.5,273.2L454.0,274.1L449.5,274.9L445.0,275.8L440.5,276.5Z" fill="#FFFFFF"/><path d="M511.6,241.8L510.7,245.5L509.7,249.3L508.2,254.6L506.8,248.8L506.4,244.3L508.4,243.8L511.6,241.8Z" fill="#FFFFFF"/><path d="M446.4,252.2L449.5,249.2L449.5,246.0L452.6,244.1L453.7,239.8L454.3,237.8L456.5,235.5L458.8,233.2L459.1,228.4L459.2,224.5L459.4,221.0L460.5,226.7L461.6,232.4L464.6,231.7L467.5,231.1L470.5,230.4L471.2,233.6L471.8,236.8L473.7,234.8L475.6,232.8L476.9,229.8L479.7,230.7L481.7,228.0L485.0,228.5L486.6,231.7L486.2,234.2L483.5,232.8L480.9,231.3L480.3,237.4L478.2,240.8L475.2,245.7L471.8,244.5L471.0,248.6L470.2,252.6L468.6,258.7L464.8,261.5L461.0,263.6L457.1,265.2L453.9,262.0L449.3,258.3L446.8,255.5L446.4,252.2Z" fill="#FFFFFF"/><path d="M470.5,230.4L474.5,229.5L478.4,228.5L482.4,227.6L486.3,226.6L490.2,225.6L494.2,224.6L498.1,223.5L502.0,222.5L503.5,227.6L505.0,232.7L506.5,237.8L509.3,237.0L512.1,236.2L511.6,241.8L508.4,243.8L506.4,244.3L504.3,240.3L500.9,237.3L500.6,232.2L501.1,226.9L500.0,225.2L498.0,229.0L497.4,230.5L498.6,233.4L499.6,236.7L500.6,240.0L502.3,244.1L499.2,243.6L496.2,243.1L492.8,242.0L493.7,237.9L493.9,236.6L492.8,234.9L489.1,233.9L486.6,231.7L485.0,228.5L481.7,228.0L479.7,230.7L476.9,229.8L475.6,232.8L473.7,234.8L471.8,236.8L471.2,233.6L470.5,230.4Z" fill="#FFD6BE"/><path d="M502.0,222.5L502.9,220.8L504.9,220.6L504.0,223.5L505.6,226.3L507.3,229.7L510.6,232.1L512.1,236.2L509.3,237.0L506.5,237.8L505.0,232.7L503.5,227.6L502.0,222.5Z" fill="#FFD6BE"/><path d="M461.9,199.5L459.1,202.0L456.3,204.5L457.3,210.0L458.4,215.5L459.4,221.0L460.5,226.7L461.6,232.4L464.6,231.7L467.5,231.1L470.5,230.4L474.5,229.5L478.4,228.5L482.4,227.6L486.3,226.6L490.2,225.6L494.2,224.6L498.1,223.5L502.0,222.5L502.9,220.8L504.9,220.6L507.0,217.5L509.4,214.2L505.4,210.8L504.1,209.2L504.0,205.3L506.3,200.0L503.4,199.0L501.5,194.9L499.0,193.7L495.0,194.8L490.9,195.9L486.9,196.9L482.8,198.0L478.8,199.0L474.7,200.0L470.7,201.0L466.6,201.9L462.6,202.9L461.9,199.5Z" fill="#FFFFFF"/><path d="M504.9,220.6L507.0,217.5L509.4,214.2L505.4,210.8L504.1,209.2L504.0,205.3L506.3,200.0L510.1,201.2L514.0,202.4L513.9,206.3L512.6,209.3L514.8,209.1L515.9,214.9L515.3,221.6L514.9,223.7L513.2,226.9L511.5,230.1L508.6,227.4L504.8,225.2L504.2,222.8L504.9,220.6Z" fill="#FFD6BE"/><path d="M461.9,199.5L464.3,197.2L466.7,194.8L467.5,190.8L465.3,186.2L468.1,185.1L470.8,184.0L473.6,182.9L477.8,182.5L480.3,182.2L482.8,181.9L485.2,179.6L487.7,177.3L486.4,171.9L484.8,170.3L487.7,166.3L489.7,162.6L491.8,158.8L495.2,155.8L498.8,154.8L502.3,153.8L505.8,152.7L507.4,158.8L508.6,164.9L509.9,169.7L511.2,170.0L512.4,174.8L513.6,179.7L513.8,184.2L514.0,188.7L515.0,193.3L515.9,197.9L515.1,200.8L516.1,201.8L515.5,204.6L513.9,206.3L514.0,202.4L510.1,201.2L506.3,200.0L503.4,199.0L501.5,194.9L499.0,193.7L495.0,194.8L490.9,195.9L486.9,196.9L482.8,198.0L478.8,199.0L474.7,200.0L470.7,201.0L466.6,201.9L462.6,202.9L461.9,199.5Z" fill="#FFD6BE"/><path d="M514.2,207.6L515.9,204.5L518.3,202.8L520.8,201.0L524.9,199.5L526.7,196.6L526.6,199.2L528.6,197.8L530.6,196.4L528.4,198.6L526.1,200.7L522.3,203.5L518.6,206.3L514.5,207.9L514.2,207.6Z" fill="#FFD6BE"/><path d="M516.1,201.8L515.1,200.8L515.9,197.9L515.0,193.3L514.0,188.7L517.5,187.8L521.0,186.8L524.5,185.9L528.0,184.9L528.9,189.1L529.8,193.4L527.2,194.5L524.7,195.6L522.4,197.1L520.1,198.6L518.1,200.2L516.1,201.8Z" fill="#FFD6BE"/><path d="M529.8,193.4L528.9,189.1L528.0,184.9L531.4,183.8L531.7,185.1L533.9,187.1L535.2,189.2L533.8,188.4L532.1,187.0L533.0,190.0L532.6,191.8L529.8,193.4Z" fill="#FFD6BE"/><path d="M514.0,188.7L517.5,187.8L521.0,186.8L524.5,185.9L528.0,184.9L531.4,183.8L531.7,185.1L533.9,187.1L535.2,189.2L538.4,184.9L538.8,187.8L541.5,185.5L544.2,184.0L543.2,181.3L540.7,179.9L542.5,181.5L541.0,184.0L539.3,184.3L537.9,182.4L535.2,179.4L533.3,178.7L534.0,176.5L535.4,174.0L532.9,172.0L530.1,175.2L526.8,176.2L523.6,177.3L520.3,178.3L517.0,179.0L513.6,179.7L513.8,184.2L514.0,188.7Z" fill="#FFD6BE"/><path d="M505.8,152.7L509.4,151.6L513.0,150.5L516.6,149.3L520.2,148.1L520.3,151.5L520.1,156.8L518.9,161.7L518.0,167.2L518.7,170.9L519.4,174.6L520.3,178.3L517.0,179.0L513.6,179.7L512.4,174.8L511.2,170.0L509.9,169.7L508.6,164.9L507.4,158.8L505.8,152.7Z" fill="#FFD6BE"/><path d="M520.2,148.1L522.5,143.6L524.2,148.7L525.9,153.8L527.6,158.9L529.3,164.0L529.8,166.1L533.2,169.3L532.9,172.0L530.1,175.2L526.8,176.2L523.6,177.3L520.3,178.3L519.4,174.6L518.7,170.9L518.0,167.2L518.9,161.7L520.1,156.8L520.3,151.5L520.2,148.1Z" fill="#FFD6BE"/><path d="M522.5,143.6L524.4,143.6L524.3,141.7L525.4,137.7L526.6,133.7L526.5,127.9L527.3,123.0L528.1,118.1L528.9,113.2L532.3,115.6L534.2,113.8L536.2,112.0L538.6,113.0L541.0,113.9L542.4,118.3L543.9,122.7L545.3,127.1L549.3,130.2L552.1,135.2L556.1,138.3L554.0,141.1L551.8,143.5L549.5,146.0L547.4,148.8L543.3,148.3L542.7,153.1L539.7,155.5L536.7,157.8L534.8,159.4L532.9,161.1L532.4,165.9L533.2,169.3L529.8,166.1L529.3,164.0L527.6,158.9L525.9,153.8L524.2,148.7L522.5,143.6Z" fill="#FFD6BE"/></g>
<polyline points="118.5,118.1 120,124.2 117.3,129.6 113.8,133.8" fill="none" stroke="#000" stroke-width="2.4" stroke-linejoin="round" stroke-linecap="round"/><polyline points="116.0,116.2 116.6,117.0" fill="none" stroke="#000" stroke-width="1.6" stroke-linejoin="round" stroke-linecap="round"/><polyline points="87.7,246.1 92.4,245.8 93.6,247.3 100.4,248.3" fill="none" stroke="#000" stroke-width="1.4" stroke-linejoin="round" stroke-linecap="round"/><polyline points="92.4,247.5 93,252.9 95.5,255.3" fill="none" stroke="#000" stroke-width="1.6" stroke-linejoin="round" stroke-linecap="round"/><polyline points="101.1,301.4 108.9,302.5" fill="none" stroke="#000" stroke-width="1.7" stroke-linejoin="round" stroke-linecap="round"/><polyline points="114.7,310.4 118.6,313.6" fill="none" stroke="#000" stroke-width="1.6" stroke-linejoin="round" stroke-linecap="round"/><polyline points="114.2,316.9 116.8,320.1" fill="none" stroke="#000" stroke-width="1.6" stroke-linejoin="round" stroke-linecap="round"/><polyline points="509.5,260.5 513.5,266 516.9,271.6 517.4,276.2 511.4,281.3 510.5,282.7" fill="none" stroke="#000" stroke-width="1.1" stroke-linejoin="round" stroke-linecap="round"/><polyline points="498,244.9 501.7,248.1 498.9,249.2 502.6,251.8 499.4,253.2 503.5,255.5 500.8,256.9 504.9,259.2" fill="none" stroke="#000" stroke-width="1.5" stroke-linejoin="round" stroke-linecap="round"/><polyline points="103,137 105.4,136.6" fill="none" stroke="#000" stroke-width="1.3" stroke-linejoin="round" stroke-linecap="round"/><polyline points="103,141 105,141.6" fill="none" stroke="#000" stroke-width="1.3" stroke-linejoin="round" stroke-linecap="round"/><polyline points="375.8,142.7 381.2,138.1" fill="none" stroke="#000" stroke-width="1.5" stroke-linejoin="round" stroke-linecap="round"/><ellipse cx="389.4" cy="365.2" rx="2.3" ry="1.5" fill="#fff" stroke="#000" stroke-width="0.9"/><polyline points="485.0,367.6 486.6,369.6 485.6,370.6" fill="none" stroke="#000" stroke-width="1.6" stroke-linejoin="round" stroke-linecap="round"/><polyline points="466.6,380.8 467.4,383.5 468.6,386.0" fill="none" stroke="#000" stroke-width="1.8" stroke-linejoin="round" stroke-linecap="round"/><polyline points="475,392.5 476,395 477.2,397.6" fill="none" stroke="#000" stroke-width="1.3" stroke-linejoin="round" stroke-linecap="round"/><polyline points="488.8,411.4 491.2,412.4" fill="none" stroke="#000" stroke-width="1.3" stroke-linejoin="round" stroke-linecap="round"/><polyline points="343.8,378.1 342.3,375 340.8,373" fill="none" stroke="#000" stroke-width="1.2" stroke-linejoin="round" stroke-linecap="round"/><polyline points="342.3,375 344.6,374.2" fill="none" stroke="#000" stroke-width="1.1" stroke-linejoin="round" stroke-linecap="round"/><polyline points="330,391.2 327.7,388.8 325.4,391.2 323.8,389.6" fill="none" stroke="#000" stroke-width="1.2" stroke-linejoin="round" stroke-linecap="round"/><polyline points="317.7,405 314.6,404.2 316.2,406.5 313.8,406.5" fill="none" stroke="#000" stroke-width="1.2" stroke-linejoin="round" stroke-linecap="round"/><g class="ld"><line x1="512.7" y1="158.9" x2="545.3" y2="155.6"/><line x1="523" y1="168" x2="541.6" y2="167.3"/><line x1="523.8" y1="180.9" x2="547" y2="180.4"/><line x1="530" y1="185.3" x2="540.4" y2="192"/><line x1="520.5" y1="191.5" x2="529.4" y2="201.3"/><line x1="513.2" y1="215.2" x2="523.4" y2="224.2"/><line x1="507.1" y1="228.6" x2="519.2" y2="239"/><line x1="508" y1="242.2" x2="518.2" y2="252"/></g>
<g class="lb"><text transform="translate(132.7,141.4) scale(.915,1)">85</text><text transform="translate(125,181.7) scale(.915,1)">72</text><text transform="translate(111.7,269.3) scale(.915,1)">108</text><text transform="translate(146.3,244.1) scale(.915,1)">75</text><text transform="translate(173.2,196.3) scale(.915,1)">89</text><text transform="translate(190.5,254.0) scale(.915,1)">48</text><text transform="translate(183.4,314.1) scale(.915,1)">80</text><text transform="translate(213.5,158.2) scale(.915,1)">77</text><text transform="translate(232,210.6) scale(.915,1)">77</text><text transform="translate(243.5,262.6) scale(.915,1)">59</text><text transform="translate(235.5,317.8) scale(.915,1)">75</text><text transform="translate(288,156.7) scale(.915,1)">33</text><text transform="translate(290,194.6) scale(.915,1)">35</text><text transform="translate(296,232.5) scale(.915,1)">37</text><text transform="translate(306,267.6) scale(.915,1)">36</text><text transform="translate(316,307.1) scale(.915,1)">25</text><text transform="translate(301.4,359.2) scale(.915,1)">59</text><text transform="translate(334.2,174.8) scale(.915,1)">21</text><text transform="translate(346.9,220.5) scale(.915,1)">26</text><text transform="translate(357.7,268.3) scale(.915,1)">23</text><text transform="translate(362.2,312.1) scale(.915,1)">18</text><text transform="translate(365,361.8) scale(.915,1)">32</text><text transform="translate(375.3,186.6) scale(.915,1)">20</text><text transform="translate(386,246.1) scale(.915,1)">22</text><text transform="translate(412.4,242.1) scale(.915,1)">43</text><text transform="translate(417.4,203.2) scale(.915,1)">40</text><text transform="translate(441.6,234.3) scale(.915,1)">70</text><text transform="translate(432.5,270.0) scale(.915,1)">25</text><text transform="translate(420.6,295.3) scale(.915,1)">29</text><text transform="translate(391.7,338.7) scale(.915,1)">25</text><text transform="translate(420.1,333.1) scale(.915,1)">29</text><text transform="translate(449.5,329.3) scale(.915,1)">49</text><text transform="translate(477.5,379.7) scale(.915,1)">104</text><text transform="translate(470,308.4) scale(.915,1)">32</text><text transform="translate(484.9,286.1) scale(.915,1)">36</text><text transform="translate(486.2,256.1) scale(.915,1)">68</text><text transform="translate(460.9,253.2) scale(.915,1)">48</text><text transform="translate(482.7,219.3) scale(.915,1)">78</text><text transform="translate(496.8,185.7) scale(.915,1)">83</text><text transform="translate(538.4,140.9) scale(.915,1)">90</text><text transform="translate(561.4,159.2) scale(.915,1)">106</text><text transform="translate(563.4,173.0) scale(.915,1)">103</text><text transform="translate(562.6,187.9) scale(.915,1)">98</text><text transform="translate(551.3,203.6) scale(.915,1)">99</text><text transform="translate(537,216.5) scale(.915,1)">100</text><text transform="translate(537.8,232.9) scale(.915,1)">95</text><text transform="translate(535.9,247.0) scale(.915,1)">106</text><text transform="translate(530.9,263.1) scale(.915,1)">88</text></g>
<text id="temp" class="t3" x="47" y="372.7" textLength="138.5" lengthAdjust="spacingAndGlyphs">Temperature</text>
<rect x="47" y="386" width="104" height="48.5" fill="#fff" stroke="#222" stroke-width="1"/>
<text id="k1" class="t4" x="58.5" y="405.2" textLength="70" lengthAdjust="spacingAndGlyphs">1 = Coldest</text>
<text id="k2" class="t4" x="52.3" y="422.5" textLength="91.5" lengthAdjust="spacingAndGlyphs">119 = Warmest</text>
<rect x="62.7" y="447.4" width="28.0" height="24.6" fill="#0000FF" stroke="#000" stroke-width="1"/><text class="lg" x="78.2" y="489.2">Record</text><text class="lg" x="78.2" y="501.5">Coldest</text><rect x="144.4" y="447.4" width="28.0" height="24.6" fill="#4096FF" stroke="#000" stroke-width="1"/><text class="lg" x="158.9" y="489.2">Much</text><text class="lg" x="158.9" y="501.5">Below</text><text class="lg" x="158.9" y="513.8">Normal</text><rect x="223.4" y="447.4" width="29.8" height="24.6" fill="#00DCFF" stroke="#000" stroke-width="1"/><text class="lg" x="237.9" y="489.2">Below</text><text class="lg" x="237.9" y="501.5">Normal</text><rect x="304.4" y="447.4" width="30.5" height="24.6" fill="#FFFFFF" stroke="#000" stroke-width="1"/><text class="lg" x="320.6" y="489.2">Near</text><text class="lg" x="320.6" y="501.5">Normal</text><rect x="386.3" y="447.4" width="30.3" height="24.6" fill="#FFD6BE" stroke="#000" stroke-width="1"/><text class="lg" x="403.8" y="489.2">Above</text><text class="lg" x="403.8" y="501.5">Normal</text><rect x="467.6" y="447.4" width="29.7" height="24.6" fill="#FF8040" stroke="#000" stroke-width="1"/><text class="lg" x="484.8" y="489.2">Much</text><text class="lg" x="484.8" y="501.5">Above</text><text class="lg" x="484.8" y="513.8">Normal</text><rect x="548.8" y="447.4" width="30.1" height="24.6" fill="#FF0000" stroke="#000" stroke-width="1"/><text class="lg" x="566.6" y="489.2">Record</text><text class="lg" x="566.6" y="501.5">Warmest</text>
<g transform="translate(559.8,334)">
<defs><clipPath id="dc"><circle r="22.9"/></clipPath>
<path id="rt" d="M-22.78,8.74A24.4,24.4 0 1 1 23.21,7.54"/><path id="rb" d="M-23.40,14.06A27.3,27.3 0 0 0 23.40,14.06"/></defs>
<circle r="27.5" fill="#fff"/>
<g clip-path="url(#dc)"><rect x="-24" y="-24" width="48" height="48" fill="#1F63B0"/>
<path d="M-24,-24H24V-17L19,-16C14,-10 9,-2 1,6.5C-5,5 -13,-3 -24,-10Z" fill="#201C7C"/>
<path d="M-24,-10C-13,-3 -5,5 1,6.5C9,-2 14,-10 19,-16.5L24,-14L24,-6.5C16,0.5 10,5.5 5,7.8L11.5,5.2L11.5,6.7C6,8.3 1,9.8 -7.5,11.2C-5.5,10.4 -4.5,10 -4,9.6C-10,8 -16,2 -24,-4Z" fill="#fff"/></g>
<text x="0" y="-9.4" text-anchor="middle" font-size="8" font-weight="bold" fill="#fff" textLength="18.6" lengthAdjust="spacingAndGlyphs">NOAA</text>
<text font-size="3.1" fill="#1c2a78" font-weight="bold"><textPath href="#rt" textLength="91" lengthAdjust="spacing">NATIONAL OCEANIC AND ATMOSPHERIC ADMINISTRATION</textPath></text>
<text font-size="3.1" fill="#1c2a78" font-weight="bold"><textPath href="#rb" textLength="55" lengthAdjust="spacing">U.S. DEPARTMENT OF COMMERCE</textPath></text>
<circle cx="20.8" cy="-24" r="0.9" fill="#223"/>
</g>
</svg>
</body></html>
